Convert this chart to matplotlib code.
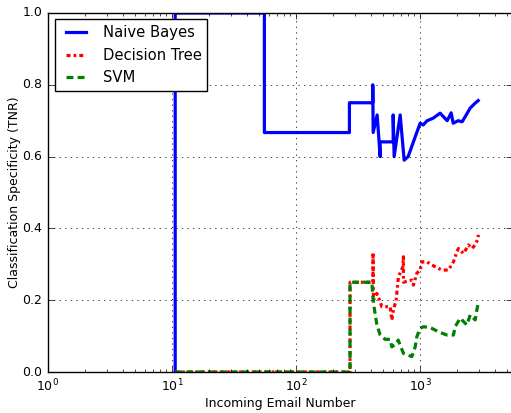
import matplotlib
matplotlib.use('Agg')
import matplotlib.pyplot as plt

# TNR curves over the incoming email stream (email index, specificity)
nb_x = [10.6, 10.6, 55.5, 55.5, 269, 269, 415, 415, 418, 450, 476, 476, 606, 606, 617,
        690, 743, 800, 912, 1000, 1057, 1138, 1273, 1449, 1651, 1778, 1846, 2024, 2181,
        2306, 2529, 2778, 2937]
nb_y = [0.0, 1.0, 1.0, 0.667, 0.667, 0.75, 0.75, 0.80, 0.667, 0.716, 0.60, 0.641, 0.641, 0.716,
        0.60, 0.716, 0.59, 0.60, 0.655, 0.693, 0.688, 0.70, 0.707, 0.721, 0.70, 0.722, 0.693,
        0.70, 0.697, 0.711, 0.735, 0.749, 0.756]

dt_x = [10.6, 272, 272, 417, 417, 420, 448, 476, 491, 573, 591, 609, 640, 656, 668, 725, 733,
        733, 857, 883, 940, 1000, 1032, 1132, 1243, 1496, 1691, 1856, 1977, 2036, 2236, 2453,
        2611, 2777, 2897, 2953]
dt_y = [0.0, 0.0, 0.25, 0.25, 0.333, 0.20, 0.219, 0.196, 0.182, 0.182, 0.145, 0.173, 0.20,
        0.238, 0.265, 0.293, 0.321, 0.25, 0.256, 0.242, 0.275, 0.284, 0.307, 0.307, 0.298,
        0.284, 0.284, 0.307, 0.335, 0.344, 0.33, 0.354, 0.344, 0.354, 0.368, 0.382]

svm_x = [10.6, 272, 272, 408, 420, 448, 476, 522, 573, 591, 649, 665, 733, 857, 912, 940, 1000,
         1064, 1205, 1405, 1641, 1856, 1915, 2101, 2381, 2531, 2690, 2777, 2866, 2953]
svm_y = [0.0, 0.0, 0.25, 0.25, 0.192, 0.131, 0.103, 0.091, 0.091, 0.07, 0.08, 0.089, 0.052,
         0.043, 0.07, 0.098, 0.122, 0.126, 0.124, 0.112, 0.103, 0.103, 0.126, 0.15, 0.131,
         0.159, 0.15, 0.145, 0.173, 0.196]

plt.style.use('classic')
plt.rcParams['font.size'] = 9
plt.rcParams['savefig.facecolor'] = 'white'

fig = plt.figure(figsize=(5.11, 4.13), dpi=100, facecolor='white')
ax = fig.add_axes([48 / 511, 41 / 413, 464 / 511, 359 / 413])

ax.plot(nb_x, nb_y, color='blue', lw=2.3, label='Naive Bayes')
ax.plot(dt_x, dt_y, color='red', lw=2.3, dashes=(2.9, 2.2, 1.9, 2.2), label='Decision Tree')
ax.plot(svm_x, svm_y, color='green', lw=2.3, dashes=(5, 3), label='SVM')

ax.set_xscale('log')
ax.set_xlim(1, 5500)
ax.set_ylim(0, 1)
ax.grid(True)
ax.tick_params(labelsize=9)
ax.set_xlabel('Incoming Email Number', fontsize=9, labelpad=2)
ax.set_ylabel('Classification Specificity (TNR)', fontsize=9, labelpad=1)

ax.legend(loc='upper left', bbox_to_anchor=(0.016, 0.982), borderaxespad=0,
          fontsize=10.6, fancybox=False)

fig.savefig('out.png', dpi=100)
